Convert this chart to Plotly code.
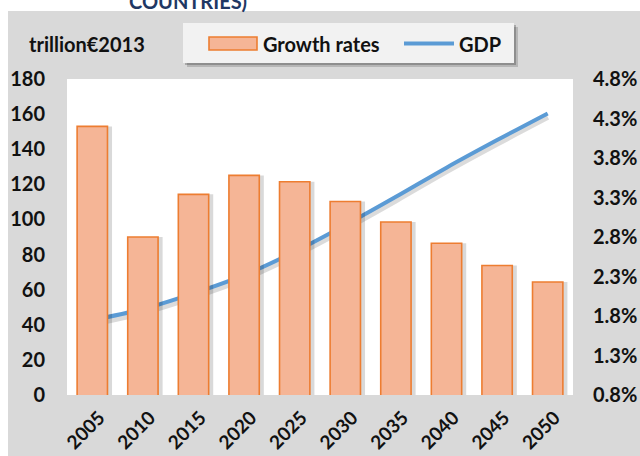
import plotly.graph_objects as go

years = ["2005", "2010", "2015", "2020", "2025", "2030", "2035", "2040", "2045", "2050"]
growth_rates = [4.20, 2.80, 3.34, 3.58, 3.50, 3.25, 2.99, 2.72, 2.44, 2.23]
gdp = [42.7, 49.0, 57.9, 68.3, 81.6, 96.8, 112.9, 129.5, 145.2, 160.4]
left_ticks = list(range(0, 181, 20))
right_ticks = [0.8, 1.3, 1.8, 2.3, 2.8, 3.3, 3.8, 4.3, 4.8]

W, H = 640, 456
L, R, T, B = 67, 67, 79, 61
pw, ph = W - L - R, H - T - B

def px(x):
    return (x - L) / pw

def py(y):
    return (H - B - y) / ph

FONT = "Lato"
BLACK = "#111111"
ORANGE = "#ed7d31"
FILL = "#f5b596"
BLUE = "#5b9bd5"

fig = go.Figure()

# bar shadow
fig.add_trace(go.Bar(
    x=years, y=growth_rates, yaxis="y2",
    width=0.6, offset=-0.21,
    marker=dict(color="rgba(0,0,0,0.15)", line=dict(width=0)),
    showlegend=False, hoverinfo="skip"))
fig.add_trace(go.Bar(
    x=years, y=growth_rates, yaxis="y2",
    width=0.6, offset=-0.3, name="Growth rates",
    marker=dict(color=FILL, line=dict(color=ORANGE, width=1.6)),
    showlegend=False))
# line shadow
fig.add_trace(go.Scatter(
    x=years, y=[g - 2.0 for g in gdp], mode="lines", yaxis="y",
    line=dict(color="rgba(0,0,0,0.14)", width=6, shape="spline"),
    showlegend=False, hoverinfo="skip"))
fig.add_trace(go.Scatter(
    x=years, y=gdp, mode="lines", name="GDP", yaxis="y",
    line=dict(color=BLUE, width=4, shape="spline"),
    showlegend=False))

tickfont = dict(family=FONT, size=20, color=BLACK, weight="bold")
xtickfont = dict(family=FONT, size=19, color=BLACK, weight="bold")
labfont = dict(family=FONT, size=20, color=BLACK, weight="bold")

shapes = [
    # white strips outside the gray card
    dict(type="rect", xref="paper", yref="paper", x0=px(-20), x1=px(W + 20), y0=py(11), y1=py(-20),
         fillcolor="white", line=dict(width=0), layer="below"),
    dict(type="rect", xref="paper", yref="paper", x0=px(-20), x1=px(8), y0=py(H + 20), y1=py(-20),
         fillcolor="white", line=dict(width=0), layer="below"),
    # legend box shadow
    dict(type="rect", xref="paper", yref="paper", x0=px(187), x1=px(518), y0=py(67), y1=py(27),
         fillcolor="rgba(0,0,0,0.16)", line=dict(width=0), layer="below"),
    dict(type="rect", xref="paper", yref="paper", x0=px(185), x1=px(516), y0=py(65), y1=py(25),
         fillcolor="rgba(0,0,0,0.22)", line=dict(width=0), layer="below"),
    # legend box
    dict(type="rect", xref="paper", yref="paper", x0=px(183), x1=px(514), y0=py(63), y1=py(23),
         fillcolor="#f2f2f2", line=dict(width=0), layer="below"),
    # legend swatches
    dict(type="rect", xref="paper", yref="paper", x0=px(209), x1=px(257), y0=py(50), y1=py(37),
         fillcolor=FILL, line=dict(color=ORANGE, width=1.6), layer="above"),
    dict(type="line", xref="paper", yref="paper", x0=px(404), x1=px(454), y0=py(43.5), y1=py(43.5),
         line=dict(color=BLUE, width=4), layer="above"),
]

annotations = [
    dict(text="COUNTRIES)", xref="paper", yref="paper", x=px(127), y=py(15),
         xanchor="left", yanchor="bottom", showarrow=False,
         font=dict(family=FONT, size=20, color="#1f3864", weight="bold")),
    dict(text="trillion€2013", xref="paper", yref="paper", x=px(27), y=py(44),
         xanchor="left", yanchor="middle", showarrow=False, font=labfont),
    dict(text="Growth rates", xref="paper", yref="paper", x=px(261), y=py(44),
         xanchor="left", yanchor="middle", showarrow=False, font=labfont),
    dict(text="GDP", xref="paper", yref="paper", x=px(457), y=py(44),
         xanchor="left", yanchor="middle", showarrow=False, font=labfont),
]

axcommon = dict(showgrid=False, zeroline=False, showline=False, ticks="", automargin=False)

fig.update_layout(
    width=W, height=H, autosize=False,
    margin=dict(l=L, r=R, t=T, b=B, pad=0, autoexpand=False),
    paper_bgcolor="#d9d9d9", plot_bgcolor="white",
    barmode="overlay", showlegend=False,
    xaxis=dict(type="category", tickangle=-45, ticklabelstandoff=7, ticklabelshift=7,
               tickfont=xtickfont, **axcommon),
    yaxis=dict(range=[0, 180], tickvals=left_ticks, ticklabelstandoff=21, tickfont=tickfont,
               **axcommon),
    yaxis2=dict(range=[0.8, 4.8], tickvals=right_ticks,
                ticktext=[f"{v:.1f}%" for v in right_ticks],
                overlaying="y", side="right", ticklabelstandoff=19, tickfont=tickfont,
                **axcommon),
    shapes=shapes, annotations=annotations,
)

fig.write_html("out.html", config={"displayModeBar": False},
               post_script="document.body.style.margin='0';")
